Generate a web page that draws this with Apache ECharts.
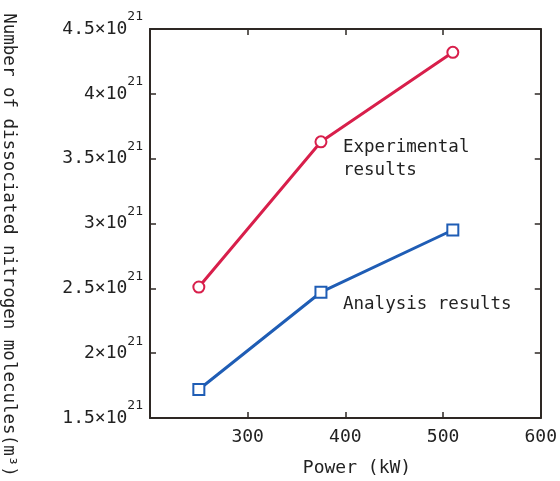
<!DOCTYPE html>
<html>
<head>
<meta charset="utf-8">
<script src="https://cdn.jsdelivr.net/npm/echarts@6/dist/echarts.min.js"></script>
<style>
html,body{margin:0;padding:0;background:#fff;}
#c{width:560px;height:481px;}
</style>
</head>
<body>
<div id="c"></div>
<script>
// Data
const power = [250, 375, 510];                 // kW
const experimental = [2.51, 3.63, 4.32];       // ×10^21
const analysis = [1.72, 2.47, 2.95];           // ×10^21
const xTickLabels = ['', '300', '400', '500', '600'];      // for 200..600
const yTickMantissas = ['1.5', '2', '2.5', '3', '3.5', '4', '4.5'];
const yExponent = '21';
const xName = 'Power (kW)';
const yName = 'Number of dissociated nitrogen molecules(m³)';
const expLabel = 'Experimental\nresults';
const anaLabel = 'Analysis results';

const FONT = '"DejaVu Sans Mono", "Liberation Mono", monospace';
const AX = '#2e2824';
const RED = '#d81f4b';
const BLUE = '#1f5db5';

const chart = echarts.init(document.getElementById('c'), null, {renderer: 'canvas'});

const gridBox = {left: 150, right: 18, top: 29, bottom: 63};

function xFmt(v) {
  const i = Math.round((v - 200) / 100);
  return xTickLabels[i] !== undefined ? xTickLabels[i] : '';
}
function yFmt(v) {
  const i = Math.round((v - 1.5) / 0.5);
  const m = yTickMantissas[i];
  if (m === undefined) return '';
  return '{a|' + m + '×10}{s|' + yExponent + '}';
}

const tickStyle = {show: true, inside: true, length: 6, lineStyle: {color: AX, width: 1.5}};
const lineStyle = {show: true, lineStyle: {color: AX, width: 2}};

chart.setOption({
  backgroundColor: '#fff',
  animation: false,
  grid: Object.assign({show: false}, gridBox),
  xAxis: [
    {
      type: 'value', min: 200, max: 600, interval: 100, position: 'bottom',
      axisLine: lineStyle, axisTick: tickStyle, splitLine: {show: false},
      axisLabel: {formatter: xFmt, color: '#222', fontFamily: FONT, fontSize: 18, margin: 10, showMaxLabel: true, showMinLabel: false}
    },
    {
      type: 'value', min: 200, max: 600, interval: 100, position: 'top',
      axisLine: lineStyle, axisTick: tickStyle, splitLine: {show: false},
      axisLabel: {show: false}
    }
  ],
  yAxis: [
    {
      type: 'value', min: 1.5, max: 4.5, interval: 0.5, position: 'left',
      axisLine: lineStyle, axisTick: tickStyle, splitLine: {show: false},
      axisLabel: {
        formatter: yFmt, margin: 7, showMinLabel: true, showMaxLabel: true,
        rich: {
          a: {fontFamily: FONT, fontSize: 18, color: '#222', lineHeight: 20},
          s: {fontFamily: FONT, fontSize: 13, color: '#222', lineHeight: 14, padding: [0, 0, 24, 0]}
        }
      }
    },
    {
      type: 'value', min: 1.5, max: 4.5, interval: 0.5, position: 'right',
      axisLine: lineStyle, axisTick: tickStyle, splitLine: {show: false},
      axisLabel: {show: false}
    }
  ],
  series: [
    {
      name: 'Experimental results', type: 'line',
      data: power.map((p, i) => [p, experimental[i]]),
      symbol: 'emptyCircle', symbolSize: 11,
      lineStyle: {color: RED, width: 3},
      itemStyle: {color: RED, borderColor: RED, borderWidth: 3},
      z: 3
    },
    {
      name: 'Analysis results', type: 'line',
      data: power.map((p, i) => [p, analysis[i]]),
      symbol: 'emptyRect', symbolSize: 11,
      lineStyle: {color: BLUE, width: 3},
      itemStyle: {color: BLUE, borderColor: BLUE, borderWidth: 3},
      z: 3
    }
  ],
  graphic: [
    {
      type: 'text', left: 343, top: 136,
      style: {text: expLabel, fill: '#222', font: '17.5px ' + FONT, lineHeight: 23}
    },
    {
      type: 'text', left: 343, top: 295,
      style: {text: anaLabel, fill: '#222', font: '17.5px ' + FONT}
    },
    {
      type: 'text', x: 357, y: 468,
      style: {text: xName, fill: '#222', font: '18px ' + FONT, align: 'center', verticalAlign: 'middle'}
    },
    {
      type: 'text', x: 9, y: 245, rotation: -Math.PI / 2,
      style: {text: yName, fill: '#222', font: '17.5px ' + FONT, align: 'center', verticalAlign: 'middle'}
    }
  ]
});
</script>
</body>
</html>
